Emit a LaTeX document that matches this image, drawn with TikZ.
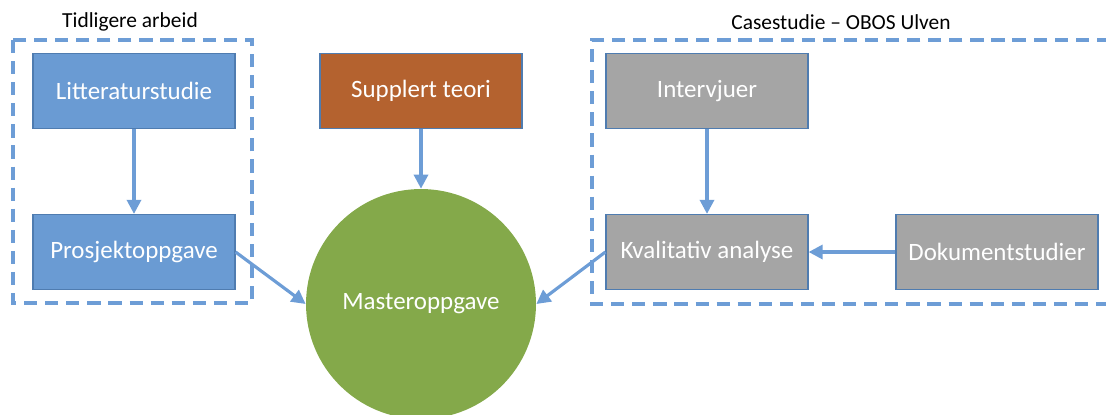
\documentclass[tikz,border=0pt]{standalone}
\usepackage{fontspec}
\setmainfont{Carlito}
\usepackage{xcolor}
\usetikzlibrary{positioning, arrows.meta}

\definecolor{boxblue}{HTML}{6A9BD3}
\definecolor{edgeblue}{HTML}{4F7CB0}
\definecolor{linkblue}{HTML}{6D9DD6}
\definecolor{boxgrey}{HTML}{A5A5A5}
\definecolor{boxrust}{HTML}{B4622F}
\definecolor{boxgreen}{HTML}{84A94A}

\begin{document}
\begin{tikzpicture}[x=0.02cm, y=-0.02cm,
  stage/.style={draw=edgeblue, line width=0.7pt, minimum width=4.04cm,
              minimum height=1.5cm, align=center, text=white,
              font=\fontsize{14.2}{16}\selectfont},
  goal/.style={circle, fill=boxgreen, minimum size=4.6cm, inner sep=0pt,
              text=white, font=\fontsize{14.2}{16}\selectfont},
  group/.style={draw=linkblue, line width=2pt, dash pattern=on 7.5pt off 4.5pt},
  arr/.style={-{Triangle[length=8pt, width=8pt]}, line width=1.8pt, linkblue},
  caption/.style={font=\fontsize{12.2}{14}\selectfont}
]
  \useasboundingbox (0,0) rectangle (1106,414);
  \clip (0,0) rectangle (1106,414);

  % Groups
  \draw[group] (13,40) rectangle (252,303);
  \draw[group] (1110,40) -- (592,40) -- (592,304) -- (1110,304);
  \node[caption] (prior) at (130,22)  {Tidligere arbeid};
  \node[caption] (case)  at (841,22)  {Casestudie -- OBOS Ulven};

  % Stages
  \node[stage, fill=boxblue]  (lit)   at (134,91)    {Litteraturstudie};
  \node[stage, fill=boxblue]  (proj)  at (134,252)   {Prosjektoppgave};
  \node[stage, fill=boxrust]  (extra) at (421,91)    {Supplert teori};
  \node[stage, fill=boxgrey]  (intv)  at (707,91)    {Intervjuer};
  \node[stage, fill=boxgrey]  (qual)  at (707,252)   {Kvalitativ analyse};
  \node[stage, fill=boxgrey]  (docs)  at (997,252)   {Dokumentstudier};

  % Result
  \node[goal] (master) at (421,304) {Masteroppgave};

  % Arrows
  \draw[arr] (lit.south)   -- (proj.north);
  \draw[arr] (extra.south) -- (master.north);
  \draw[arr] (proj.east)   -- (master.west);
  \draw[arr] (intv.south)  -- (qual.north);
  \draw[arr] (docs.west)   -- (qual.east);
  \draw[arr] (qual.west)   -- (master.east);

\end{tikzpicture}
\end{document}
